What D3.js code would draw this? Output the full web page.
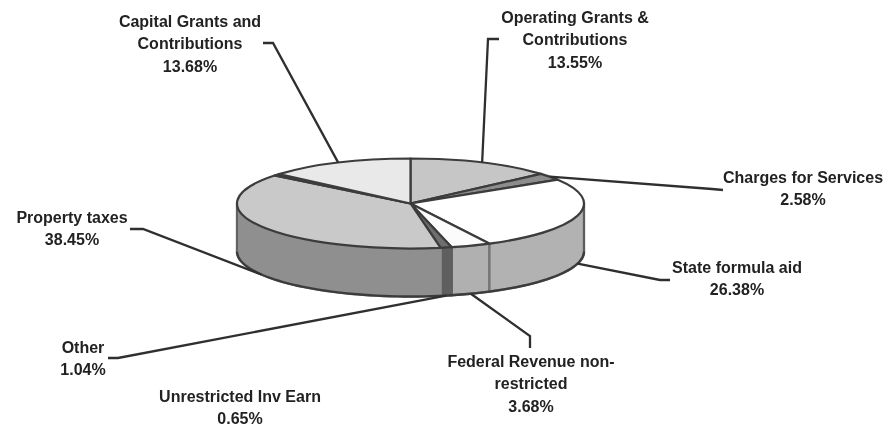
<!DOCTYPE html>
<html>
<head>
<meta charset="utf-8">
<script src="https://cdn.jsdelivr.net/npm/d3@7"></script>
<style>
  html, body { margin: 0; padding: 0; background: #fff; }
  svg { display: block; filter: blur(0.45px); }
  text { font-family: "Liberation Sans", Arial, sans-serif; font-weight: bold; font-size: 16px; fill: #222; text-anchor: middle; }
</style>
</head>
<body>
<div id="chart"></div>
<script>
/* Revenue share pie, tilted, slices run clockwise from 12 o'clock */
const categories = [
    ["Operating Grants &", "Contributions"],
    ["Charges for Services"],
    ["State formula aid"],
    ["Federal Revenue non-", "restricted"],
    ["Other"],
    ["Property taxes"],
    ["Unrestricted Inv Earn"],
    ["Capital Grants and", "Contributions"]
];
const shares = [13.55, 2.58, 26.38, 3.68, 1.04, 38.45, 0.65, 13.68];
const shareLabels = ["13.55%", "2.58%", "26.38%", "3.68%", "1.04%", "38.45%", "0.65%", "13.68%"];

/* styling and layout, by slice */
const topFill = ["#c6c6c6", "#8c8c8c", "#ffffff", "#fbfbfb", "#6e6e6e", "#c9c9c9", "#5a5a5a", "#e9e9e9"];
const wallFill = ["#9a9a9a", "#8a8a8a", "#b2b2b2", "#b0b0b0", "#5f5f5f", "#8f8f8f", "#555555", "#a8a8a8"];
const wallStroke = ["#777", "#777", "#777", "#777", "#5f5f5f", "#8f8f8f", "#555", "#777"];
const labelX = [575, 803, 737, 531, 83, 72, 240, 190];
const labelY = [23, 183, 273, 367, 353, 223, 402, 27];
/* leader end next to the text, then the elbow. null = no leader */
const leaderEnds = [
    [[499, 39], [488, 39]],
    [[723, 190], [712, 189]],
    [[670, 280], [660, 280]],
    [[530, 348], [530, 336]],
    [[108, 358], [118, 358]],
    [[130, 229], [143, 229]],
    null,
    [[263, 43], [273, 43]]
];

const width = 886,
    height = 427,
    cx = 410.5,
    cy = 203.5,
    rx = 173.5,
    ry = 45,
    depth = 48;

const svg = d3.select("#chart")
    .append("svg")
    .attr("width", width)
    .attr("height", height)
    .attr("viewBox", [0, 0, width, height]);

const pie = d3.pie().sort(null).value(d => d);
const slices = pie(shares);

/* angle (0 at top, clockwise) to the tilted ellipse */
const px = a => cx + rx * Math.sin(a);
const py = a => cy - ry * Math.cos(a);

const line = d3.line();

/* side wall only shows on the front half */
function wallPath(a0, a1) {
    const from = Math.max(a0, Math.PI / 2),
        to = Math.min(a1, Math.PI * 1.5);
    if (to <= from) return null;
    const steps = d3.range(0, 1.0001, 1 / 40).map(t => from + (to - from) * t);
    const upper = steps.map(a => [px(a), py(a)]);
    const lower = steps.slice().reverse().map(a => [px(a), py(a) + depth]);
    return line(upper.concat(lower)) + "Z";
}

svg.append("g")
    .selectAll("path")
    .data(slices)
    .join("path")
    .attr("d", d => wallPath(d.startAngle, d.endAngle))
    .attr("fill", (d, i) => wallFill[i])
    .attr("stroke", (d, i) => wallStroke[i])
    .attr("stroke-width", 2.4);

/* outline of the lower rim and both ends */
const rimAngles = d3.range(Math.PI / 2, Math.PI * 1.5 + 0.001, Math.PI / 80);
svg.append("path")
    .attr("d", line(rimAngles.map(a => [px(a), py(a) + depth])))
    .attr("fill", "none")
    .attr("stroke", "#3c3c3c")
    .attr("stroke-width", 2.4);
svg.append("g")
    .selectAll("line")
    .data([Math.PI / 2, Math.PI * 1.5])
    .join("line")
    .attr("x1", d => px(d))
    .attr("x2", d => px(d))
    .attr("y1", d => py(d))
    .attr("y2", d => py(d) + depth)
    .attr("stroke", "#555")
    .attr("stroke-width", 1.5);

/* top face: a normal d3 arc squashed vertically */
const arc = d3.arc().innerRadius(0).outerRadius(rx);
svg.append("g")
    .attr("transform", `translate(${cx},${cy}) scale(1,${ry / rx})`)
    .selectAll("path")
    .data(slices)
    .join("path")
    .attr("d", arc)
    .attr("fill", (d, i) => topFill[i])
    .attr("stroke", "#3c3c3c")
    .attr("stroke-width", 2.2)
    .attr("stroke-linejoin", "round")
    .attr("vector-effect", "non-scaling-stroke");

/* leaders meet the pie at the middle of their slice */
function anchor(d) {
    const a = (d.startAngle + d.endAngle) / 2;
    const front = a > Math.PI / 2 && a < Math.PI * 1.5;
    return [px(a), py(a) + (front ? depth : 0)];
}

svg.append("g")
    .selectAll("path")
    .data(slices.filter((d, i) => leaderEnds[i]))
    .join("path")
    .attr("d", d => line(leaderEnds[d.index].concat([anchor(d)])))
    .attr("fill", "none")
    .attr("stroke", "#2f2f2f")
    .attr("stroke-width", 2.3);

/* labels */
const label = svg.append("g")
    .selectAll("text")
    .data(categories)
    .join("text")
    .attr("x", (d, i) => labelX[i])
    .attr("y", (d, i) => labelY[i]);

label.selectAll("tspan")
    .data((d, i) => d.concat([shareLabels[i]]).map(t => ({t, x: labelX[i]})))
    .join("tspan")
    .attr("x", d => d.x)
    .attr("dy", (d, i) => i ? 22.3 : 0)
    .text(d => d.t);
</script>
</body>
</html>
